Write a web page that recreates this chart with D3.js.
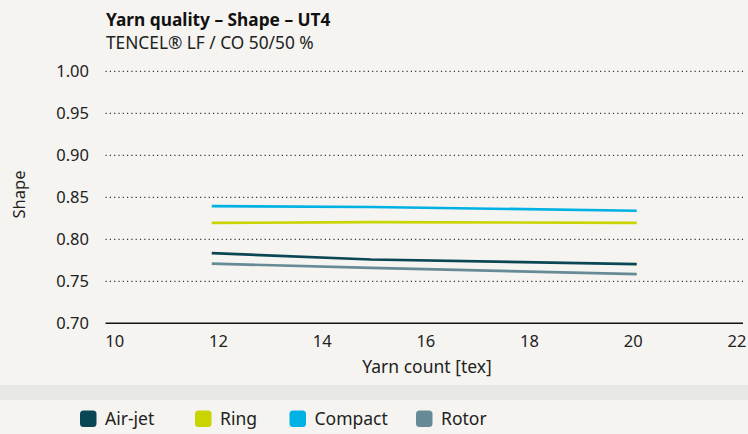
<!DOCTYPE html>
<html>
<head>
<meta charset="utf-8">
<script src="https://cdn.jsdelivr.net/npm/d3@7"></script>
<style>
  body { margin: 0; background: #f5f4f0; }
  svg { display: block; font-family: "Noto Sans", Roboto, sans-serif; }
</style>
</head>
<body>
<div class="canvas"></div>
<script>
'use strict';
var yarnCount = [12, 15, 20]
var airJet = [0.7835, 0.776, 0.7705]
var ring = [0.8195, 0.8205, 0.8195]
var compact = [0.8395, 0.8385, 0.834]
var rotor = [0.771, 0.766, 0.7585]
var seriesNames = ['Air-jet', 'Ring', 'Compact', 'Rotor']
var seriesColors = ['#0b4654', '#c9d400', '#00b1e4', '#668b97']
var xTicks = [10, 12, 14, 16, 18, 20, 22]
var yTicks = [0.70, 0.75, 0.80, 0.85, 0.90, 0.95, 1.00]

var W = 748, H = 434

var svg = d3.select(".canvas")
    .append("svg")
    .attr("width", W)
    .attr("height", H);

var xScale = d3.scaleLinear().domain([10, 22]).range([105.5, 743])
// tick labels sit slightly off the tick positions in the original
var xLabel = d3.scaleLinear().domain([10, 22]).range([114.7, 737])
var yScale = d3.scaleLinear().domain([0.70, 1.00]).range([323.3, 71.3])

// title
svg.append("text").attr("x", 106).attr("y", 26)
    .attr("font-size", 17.3).attr("font-weight", "bold").attr("fill", "#111")
    .text("Yarn quality – Shape – UT4")
svg.append("text").attr("x", 106).attr("y", 48.5)
    .attr("font-size", 17.3).attr("fill", "#222")
    .text("TENCEL® LF / CO 50/50 %")

// grid
svg.selectAll(".grid")
    .data(yTicks.filter(d => d > 0.70))
    .enter().append("line")
    .attr("x1", xScale(10)).attr("x2", xScale(22))
    .attr("y1", d => yScale(d)).attr("y2", d => yScale(d))
    .attr("stroke", "#333").attr("stroke-width", 1.2)
    .attr("stroke-dasharray", "1.2,3.1")

svg.append("line")
    .attr("x1", xScale(10)).attr("x2", xScale(22))
    .attr("y1", yScale(0.70)).attr("y2", yScale(0.70))
    .attr("stroke", "#111").attr("stroke-width", 1.5)

// y tick labels
svg.selectAll(".ytick")
    .data(yTicks)
    .enter().append("text")
    .attr("x", 89).attr("y", d => yScale(d) + 6)
    .attr("text-anchor", "end").attr("font-size", 16.5).attr("fill", "#222")
    .text(d => d3.format(".2f")(d))

// x tick labels
svg.selectAll(".xtick")
    .data(xTicks)
    .enter().append("text")
    .attr("x", d => xLabel(d)).attr("y", 347)
    .attr("text-anchor", "middle").attr("font-size", 16.5).attr("fill", "#222")
    .text(d => d)

svg.append("text").attr("x", 427).attr("y", 372.5)
    .attr("text-anchor", "middle").attr("font-size", 17.5).attr("fill", "#222")
    .text("Yarn count [tex]")

svg.append("text")
    .attr("transform", "translate(25,194.5) rotate(-90)")
    .attr("text-anchor", "middle").attr("font-size", 16.5).attr("fill", "#222")
    .text("Shape")

// lines
var allSeries = [airJet, ring, compact, rotor]
var line = d3.line()
    .x((d, i) => xScale(yarnCount[i]))
    .y(d => yScale(d))

for (let i = 0; i < allSeries.length; i++) {
    svg.append("path")
        .attr("d", line(allSeries[i]))
        .attr("fill", "none")
        .attr("stroke", seriesColors[i])
        .attr("stroke-width", 2.6)
}

// legend
svg.append("rect").attr("x", 0).attr("y", 385).attr("width", W).attr("height", 15)
    .attr("fill", "#e8e8e6")

var legendX = [80, 195, 289.5, 416]
var lg = svg.selectAll(".legend")
    .data(seriesNames)
    .enter().append("g")
    .attr("transform", (d, i) => "translate(" + legendX[i] + ",410.5)")
lg.append("rect").attr("width", 16.5).attr("height", 16.5).attr("rx", 3.5)
    .attr("fill", (d, i) => seriesColors[i])
lg.append("text").attr("x", 25).attr("y", 14.5)
    .attr("font-size", 17.5).attr("fill", "#222")
    .text(d => d)
</script>
</body>
</html>
